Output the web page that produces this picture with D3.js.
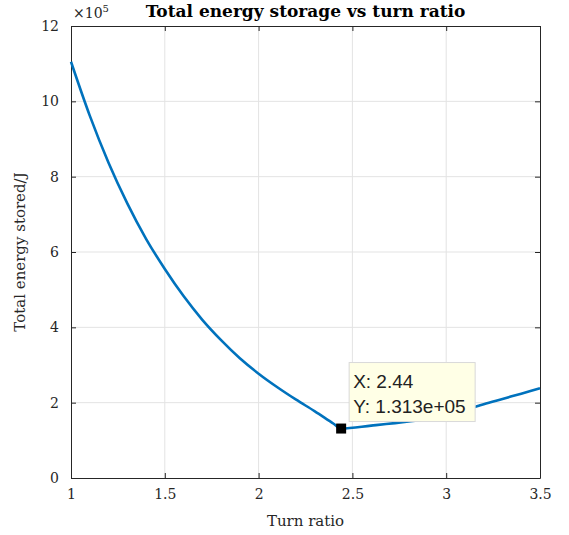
<!DOCTYPE html>
<html>
<head>
<meta charset="utf-8">
<script src="https://cdn.jsdelivr.net/npm/d3@7"></script>
<style>
  body { margin: 0; background: #fff; }
  svg { display: block; }
</style>
</head>
<body>
<div id="chart"></div>
<script>
// values (y in units of 1e5 J)
var turnRatio = [1.0, 1.1, 1.2, 1.3, 1.4, 1.5, 1.6, 1.7, 1.8, 1.9, 2.0, 2.1, 2.2, 2.3, 2.4, 2.44,
                 2.6, 2.8, 2.9, 3.0, 3.1, 3.2, 3.3, 3.4, 3.5];
var energy = [11.05, 9.62, 8.37, 7.29, 6.35, 5.55, 4.83, 4.2, 3.66, 3.18, 2.77, 2.41, 2.08, 1.77, 1.44, 1.313,
              1.39, 1.5, 1.57, 1.68, 1.81, 1.96, 2.1, 2.24, 2.38];
var xTicks = [1, 1.5, 2, 2.5, 3, 3.5];
var yTicks = [0, 2, 4, 6, 8, 10, 12];
var tipX = 2.44, tipY = 1.313;
var tipLines = ["X: 2.44", "Y: 1.313e+05"];

var W = 569, H = 535;
var margin = {top: 26, right: 29, bottom: 57, left: 71},
    width = W - margin.left - margin.right,
    height = H - margin.top - margin.bottom;

var x = d3.scaleLinear().domain([1, 3.5]).range([0, width]);
var y = d3.scaleLinear().domain([0, 12]).range([height, 0]);

var svg = d3.select("#chart").append("svg")
    .attr("width", W)
    .attr("height", H)
  .append("g")
    .attr("transform", "translate(" + margin.left + "," + margin.top + ")");

var serif = "'DejaVu Serif', 'Liberation Serif', serif";

// grid
svg.append("g")
  .selectAll("line")
  .data(xTicks.slice(1, -1))
  .enter().append("line")
    .attr("x1", d => x(d)).attr("x2", d => x(d))
    .attr("y1", 0).attr("y2", height)
    .attr("stroke", "#e3e3e3").attr("stroke-width", 1);
svg.append("g")
  .selectAll("line")
  .data(yTicks.slice(1, -1))
  .enter().append("line")
    .attr("y1", d => y(d)).attr("y2", d => y(d))
    .attr("x1", 0).attr("x2", width)
    .attr("stroke", "#e3e3e3").attr("stroke-width", 1);

// axes (ticks inward, matlab style box)
function styleAxis(g) {
  g.select(".domain").attr("stroke", "#262626");
  g.selectAll(".tick line").attr("stroke", "#262626");
  g.selectAll("text").style("font-family", serif).style("font-size", "14px").attr("fill", "#262626");
}
svg.append("g")
  .attr("transform", "translate(0," + height + ")")
  .call(d3.axisBottom(x).tickValues(xTicks).tickSizeInner(-5).tickSizeOuter(0).tickPadding(11).tickFormat(d3.format("")))
  .call(styleAxis);
svg.append("g")
  .call(d3.axisLeft(y).tickValues(yTicks).tickSizeInner(-5).tickSizeOuter(0).tickPadding(12))
  .call(styleAxis);
svg.append("g")
  .call(d3.axisTop(x).tickValues(xTicks).tickSizeInner(-5).tickSizeOuter(0).tickFormat(""))
  .call(styleAxis);
svg.append("g")
  .attr("transform", "translate(" + width + ",0)")
  .call(d3.axisRight(y).tickValues(yTicks).tickSizeInner(-5).tickSizeOuter(0).tickFormat(""))
  .call(styleAxis);

// exponent label
var ex = svg.append("text")
  .attr("x", 2).attr("y", -8)
  .style("font-family", serif).style("font-size", "14px").attr("fill", "#262626");
ex.append("tspan").text("\u00d710");
ex.append("tspan").attr("dy", -6).style("font-size", "10px").text("5");

// title
svg.append("text")
  .attr("x", width / 2).attr("y", -9)
  .attr("text-anchor", "middle")
  .style("font-family", serif).style("font-size", "17px").style("font-weight", "bold")
  .attr("fill", "#000")
  .text("Total energy storage vs turn ratio");

// axis labels
svg.append("text")
  .attr("x", width / 2).attr("y", height + 48)
  .attr("text-anchor", "middle")
  .style("font-family", serif).style("font-size", "15px").attr("fill", "#262626")
  .text("Turn ratio");
svg.append("text")
  .attr("transform", "translate(" + (-46) + "," + (height / 2) + ")rotate(-90)")
  .attr("text-anchor", "middle")
  .style("font-family", serif).style("font-size", "15px").attr("fill", "#262626")
  .text("Total energy stored/J");

// data line
var data = turnRatio.map((t, i) => [t, energy[i]]);
svg.append("path")
  .datum(data)
  .attr("fill", "none")
  .attr("stroke", "#0072BD")
  .attr("stroke-width", 2.6)
  .attr("d", d3.line().x(d => x(d[0])).y(d => y(d[1])).curve(d3.curveMonotoneX));

// data tip
var px = x(tipX), py = y(tipY);
svg.append("rect")
  .attr("x", px - 5).attr("y", py - 5)
  .attr("width", 10).attr("height", 10)
  .attr("fill", "#000");
var tip = svg.append("g").attr("transform", "translate(" + (px + 8) + "," + (py - 66) + ")");
tip.append("rect")
  .attr("width", 126).attr("height", 59)
  .attr("fill", "#ffffe6").attr("stroke", "#d9d9d9");
tip.selectAll("text")
  .data(tipLines)
  .enter().append("text")
    .attr("x", 4).attr("y", (d, i) => 25 + i * 25)
    .style("font-family", "'Liberation Sans', Arial, sans-serif").style("font-size", "19px")
    .attr("fill", "#222")
    .text(d => d);
</script>
</body>
</html>
